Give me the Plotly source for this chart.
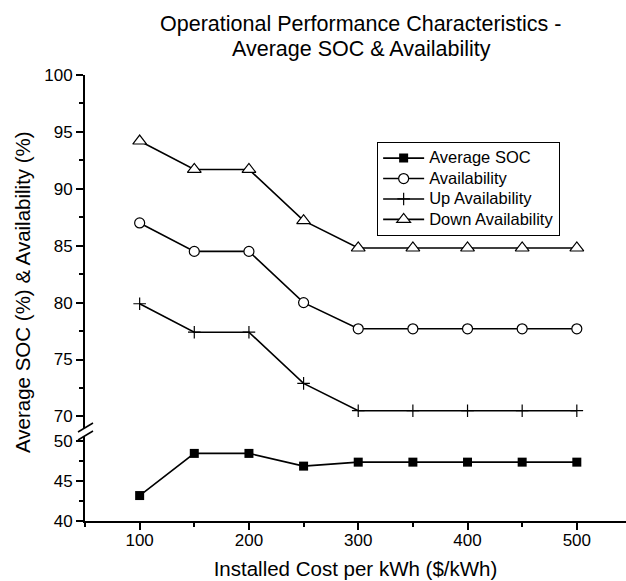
import plotly.graph_objects as go

cost = [100, 150, 200, 250, 300, 350, 400, 450, 500]
avg_soc = [43.2, 48.5, 48.5, 46.9, 47.4, 47.4, 47.4, 47.4, 47.4]
availability = [87.0, 84.5, 84.5, 80.0, 77.7, 77.7, 77.7, 77.7, 77.7]
up_avail = [79.9, 77.4, 77.4, 72.9, 70.5, 70.5, 70.5, 70.5, 70.5]
down_avail = [94.2, 91.7, 91.7, 87.2, 84.8, 84.8, 84.8, 84.8, 84.8]

FONT = "Arial, Liberation Sans, sans-serif"
LW = 1.6
LEG_TXT = 16.5


def leg(name):
    return f'<span style="font-size:{LEG_TXT}px">{name}</span>'


fig = go.Figure()
fig.add_trace(go.Scatter(x=cost, y=avg_soc, name=leg("Average SOC"), mode="lines+markers",
                         yaxis="y2", line=dict(color="black", width=LW),
                         marker=dict(symbol="square", size=9, color="black")))
fig.add_trace(go.Scatter(x=cost, y=availability, name=leg("Availability"), mode="lines+markers",
                         line=dict(color="black", width=LW),
                         marker=dict(symbol="circle", size=10, color="white",
                                     line=dict(color="black", width=1.2))))
fig.add_trace(go.Scatter(x=cost, y=up_avail, name=leg("Up Availability"), mode="lines+markers",
                         line=dict(color="black", width=LW),
                         marker=dict(symbol="cross-thin", size=9, color="black",
                                     line=dict(color="black", width=1.2))))
fig.add_trace(go.Scatter(x=cost, y=down_avail, name=leg("Down Availability"), mode="lines+markers",
                         line=dict(color="black", width=LW),
                         marker=dict(symbol="triangle-up", size=12, color="white",
                                     line=dict(color="black", width=1.2))))

axis_common = dict(showline=True, linecolor="black", linewidth=2, ticks="outside",
                   ticklen=7, tickwidth=1.5, tickcolor="black", showgrid=False,
                   zeroline=False, tickfont=dict(family=FONT, size=17, color="black"))
minor_common = dict(ticks="outside", ticklen=4, tickcolor="black", tickwidth=1.5)

fig.update_layout(
    width=626, height=581,
    margin=dict(l=85, r=0, t=75, b=60),
    paper_bgcolor="white", plot_bgcolor="white",
    font=dict(family=FONT, color="black"),
    xaxis=dict(range=[50, 545], anchor="y2", tick0=0, dtick=100,
               minor=dict(dtick=50, **minor_common), ticklabelstandoff=-4,
               title=dict(text="Installed Cost per kWh ($/kWh)",
                          font=dict(family=FONT, size=20.5, color="black"), standoff=12),
               **axis_common),
    yaxis=dict(range=[69, 100], domain=[0.209, 1], anchor="x", tick0=0, dtick=5,
               minor=dict(dtick=2.5, **minor_common), **axis_common),
    yaxis2=dict(range=[40, 50.7], domain=[0, 0.1908], anchor="x", tick0=0, dtick=5,
                minor=dict(dtick=2.5, **minor_common), **axis_common),
    legend=dict(x=0.54, y=0.85, xanchor="left", yanchor="top",
                bgcolor="white", bordercolor="black", borderwidth=1,
                font=dict(family=FONT, size=13.4, color="black"),
                tracegroupgap=0, itemwidth=41),
    showlegend=True,
    annotations=[
        dict(text="Operational Performance Characteristics -", xref="paper", yref="paper",
             x=(361 - 85) / 541, y=(521 - 24) / 446, xanchor="center", yanchor="middle",
             showarrow=False, font=dict(family=FONT, size=21.5, color="black")),
        dict(text="Average SOC & Availability", xref="paper", yref="paper",
             x=(361 - 85) / 541, y=(521 - 49) / 446, xanchor="center", yanchor="middle",
             showarrow=False, font=dict(family=FONT, size=21.5, color="black")),
        dict(text="Average SOC (%) & Availability (%)", textangle=-90,
             xref="paper", yref="paper", x=(22 - 85) / 541, y=(521 - 292) / 446,
             xanchor="center", yanchor="middle", showarrow=False,
             font=dict(family=FONT, size=20.5, color="black")),
    ],
)


# axis break marks
def px_to_paper(px, py):
    return (px - 85) / 541, (521 - py) / 446


for y0 in (432, 440):
    x0p, y0p = px_to_paper(78, y0)
    x1p, y1p = px_to_paper(93, y0 - 9)
    fig.add_shape(type="line", xref="paper", yref="paper", x0=x0p, y0=y0p, x1=x1p, y1=y1p,
                  line=dict(color="black", width=1.5))

fig.write_html("out.html")
